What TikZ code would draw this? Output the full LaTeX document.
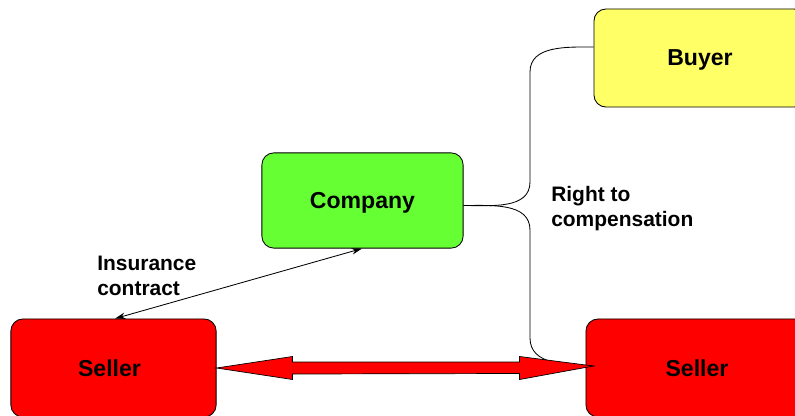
\documentclass[tikz,border=0pt]{standalone}
\usepackage{fontspec}
\setmainfont{Liberation Sans}
\definecolor{myred}{HTML}{FF0000}
\definecolor{mygreen}{HTML}{66FF33}
\definecolor{myyellow}{HTML}{FFFF66}
\usetikzlibrary{calc, arrows.meta}
\tikzset{
	partybox/.style={draw=black, line width=0.6pt, rounded corners=8.5pt, fill=#1,
		minimum width=5.1cm, minimum height=2.45cm, inner sep=0pt, text depth=0pt,
		font=\fontsize{16.4}{19}\selectfont\bfseries}
}
\tikzset{
	labeltext/.style={anchor=west, align=left, inner sep=0pt,
		font=\fontsize{14.9}{17.8}\selectfont\bfseries}
}
\tikzset{
	linkline/.style={draw=black, line width=0.6pt}
}
\tikzset{
	bigarrow/.style={draw=black, line width=0.5pt, fill=myred, line join=miter}
}

\begin{document}
\begin{tikzpicture}[x=0.025cm, y=-0.025cm]
\useasboundingbox (0,0) rectangle (795,415);

\node[partybox=myyellow, minimum width=5.3cm] (buyer) at (700,58) {Buyer};
\node[partybox=mygreen, minimum width=5.03cm, minimum height=2.38cm] (company) at (362.5,200.5) {Company};
\node[partybox=myred, minimum width=5.13cm] (sellerA) at (113.5,368) {\hspace*{-2mm}Seller};
\node[partybox=myred, minimum width=5.55cm] (sellerB) at (697,368) {Seller};

\node[labeltext] (insurance) at (97,275.5) {Insurance\\contract};
\node[labeltext] (right) at (551,208.5) {Right to\\compensation};

% insurance contract between seller and company
\draw[linkline, {Stealth[length=2.6mm, width=1.6mm]}-{Stealth[length=2.6mm, width=1.6mm]}]
	($(sellerA.north)+(1.5,0)$) -- ($(company.south)+(-0.5,0)$);

% right to compensation
\coordinate (fork) at ($(company.east)+(0,5)$);
\coordinate (upA) at (530,182);
\coordinate (upB) at (530,72);
\coordinate (downA) at (530,230);
\coordinate (downB) at (530,338);
\coordinate (tipA) at (sellerA.east);
\coordinate (tipB) at ($(sellerB.west)+(8,-2)$);
\draw[linkline] (fork) to[out=0, in=-90] (upA) -- (upB)
	to[out=90, in=180] ($(buyer.west)+(0,-11)$);
\draw[linkline] (fork) to[out=0, in=90] (downA) -- (downB)
	to[out=-90, in=178] (tipB);

% seller to seller
\draw[bigarrow] (tipA) -- ++(76,-11.5) -- ++(0,5.5) -- ($(tipB)+(-74,-4)$) -- ++(0,-5.5)
	-- (tipB) -- ++(-74,13.5) -- ++(0,-6) -- ($(tipA)+(76,6)$) -- ++(0,5.5) -- cycle;

\end{tikzpicture}
\end{document}
